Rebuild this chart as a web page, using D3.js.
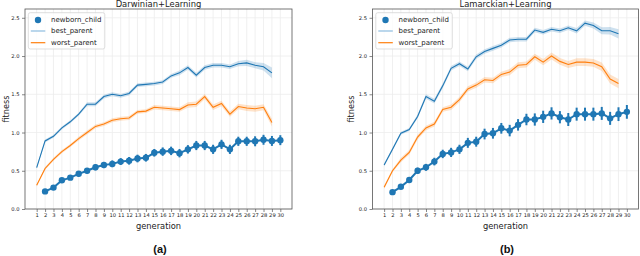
<!DOCTYPE html>
<html>
<head>
<meta charset="utf-8">
<script src="https://cdn.jsdelivr.net/npm/d3@7"></script>
<style>
	body { margin: 0; background: #fff; }
	svg { display: block; font-family: 'DejaVu Sans', sans-serif; }
</style>
</head>
<body>
<svg id="chart" width="640" height="256"></svg>
<script>
// generations shown on the x axis
const genLabels = [1, 2, 3, 4, 5, 6, 7, 8, 9, 10, 11, 12, 13, 14, 15, 16, 17, 18, 19, 20, 21, 22, 23, 24, 25, 26, 27, 28, 29, 30];
const parentGens = genLabels.slice(0, 29);
const childGens = genLabels.slice(1);
const yTicks = [0, 0.5, 1.0, 1.5, 2.0, 2.5];
const seriesNames = ['newborn_child', 'best_parent', 'worst_parent'];

// Darwinian+Learning
const darwinBest = [0.54, 0.89, 0.95, 1.06, 1.14, 1.24, 1.37, 1.37, 1.47, 1.50, 1.48, 1.51, 1.62, 1.63, 1.64, 1.66, 1.74, 1.78, 1.85, 1.75, 1.85, 1.88, 1.88, 1.86, 1.90, 1.91, 1.88, 1.86, 1.78];
const darwinBestCi = [0.015, 0.02, 0.02, 0.02, 0.02, 0.02, 0.025, 0.025, 0.025, 0.025, 0.025, 0.025, 0.025, 0.025, 0.025, 0.025, 0.025, 0.03, 0.03, 0.03, 0.03, 0.03, 0.03, 0.03, 0.035, 0.04, 0.04, 0.05, 0.07];
const darwinWorst = [0.31, 0.53, 0.65, 0.75, 0.83, 0.92, 1.00, 1.08, 1.11, 1.16, 1.18, 1.19, 1.27, 1.28, 1.33, 1.32, 1.31, 1.30, 1.36, 1.37, 1.47, 1.33, 1.38, 1.24, 1.34, 1.32, 1.31, 1.33, 1.13];
const darwinWorstCi = [0.015, 0.02, 0.02, 0.02, 0.02, 0.025, 0.025, 0.025, 0.025, 0.025, 0.025, 0.025, 0.025, 0.025, 0.03, 0.03, 0.03, 0.03, 0.035, 0.035, 0.035, 0.035, 0.035, 0.035, 0.035, 0.04, 0.04, 0.04, 0.05];
const darwinChild = [0.23, 0.28, 0.375, 0.41, 0.46, 0.50, 0.545, 0.575, 0.59, 0.62, 0.63, 0.66, 0.67, 0.735, 0.75, 0.76, 0.73, 0.78, 0.83, 0.83, 0.78, 0.845, 0.78, 0.885, 0.885, 0.885, 0.905, 0.89, 0.90];
const darwinChildErr = [0.02, 0.025, 0.03, 0.03, 0.035, 0.035, 0.04, 0.04, 0.045, 0.045, 0.05, 0.05, 0.05, 0.05, 0.055, 0.055, 0.055, 0.055, 0.06, 0.06, 0.06, 0.06, 0.06, 0.06, 0.06, 0.065, 0.065, 0.065, 0.065];

// Lamarckian+Learning
const lamarckBest = [0.575, 0.78, 0.99, 1.04, 1.21, 1.47, 1.41, 1.61, 1.84, 1.90, 1.83, 1.99, 2.06, 2.10, 2.14, 2.21, 2.22, 2.22, 2.34, 2.31, 2.35, 2.33, 2.37, 2.33, 2.43, 2.40, 2.33, 2.33, 2.29];
const lamarckBestCi = [0.02, 0.02, 0.02, 0.02, 0.025, 0.03, 0.03, 0.03, 0.03, 0.03, 0.03, 0.03, 0.03, 0.03, 0.03, 0.03, 0.03, 0.03, 0.03, 0.03, 0.03, 0.03, 0.03, 0.035, 0.035, 0.04, 0.045, 0.05, 0.06];
const lamarckWorst = [0.285, 0.50, 0.64, 0.74, 0.94, 1.06, 1.11, 1.30, 1.33, 1.43, 1.57, 1.62, 1.69, 1.68, 1.76, 1.79, 1.88, 1.89, 1.99, 1.92, 2.00, 1.93, 1.89, 1.92, 1.92, 1.91, 1.86, 1.70, 1.64];
const lamarckWorstCi = [0.02, 0.02, 0.03, 0.03, 0.03, 0.03, 0.03, 0.03, 0.035, 0.035, 0.035, 0.035, 0.035, 0.035, 0.035, 0.04, 0.04, 0.04, 0.04, 0.04, 0.045, 0.045, 0.045, 0.05, 0.05, 0.05, 0.055, 0.06, 0.06];
const lamarckChild = [0.22, 0.29, 0.38, 0.50, 0.545, 0.62, 0.72, 0.74, 0.78, 0.865, 0.88, 0.98, 0.99, 1.055, 1.025, 1.10, 1.17, 1.17, 1.205, 1.25, 1.20, 1.17, 1.24, 1.24, 1.24, 1.25, 1.185, 1.24, 1.27];
const lamarckChildErr = [0.02, 0.03, 0.035, 0.04, 0.045, 0.05, 0.055, 0.06, 0.06, 0.065, 0.065, 0.07, 0.07, 0.07, 0.075, 0.075, 0.075, 0.08, 0.08, 0.08, 0.08, 0.085, 0.085, 0.085, 0.085, 0.085, 0.085, 0.09, 0.09];

const BLUE = '#1f77b4';
const ORANGE = '#ff7f0e';

const svg = d3.select('#chart');

const panels = [
	{ title: 'Darwinian+Learning', tag: '(a)', left: 25, right: 292, labelX: 8.5,
		best: darwinBest, bestCi: darwinBestCi, worst: darwinWorst, worstCi: darwinWorstCi,
		child: darwinChild, childErr: darwinChildErr },
	{ title: 'Lamarckian+Learning', tag: '(b)', left: 372.5, right: 638.5, labelX: 354,
		best: lamarckBest, bestCi: lamarckBestCi, worst: lamarckWorst, worstCi: lamarckWorstCi,
		child: lamarckChild, childErr: lamarckChildErr },
];

panels.forEach(drawPanel);

function drawPanel (p) {
	const top = 9, bottom = 209;
	const x = d3.scaleLinear([1 - 1.39, 30 + 1.39], [p.left, p.right]);
	const y = d3.scaleLinear([0, 2.615], [bottom, top]);
	const g = svg.append('g');

	// grid
	g.append('g').selectAll('line').data(genLabels).join('line')
		.attr('x1', d => x(d)).attr('x2', d => x(d))
		.attr('y1', top).attr('y2', bottom)
		.style('stroke', '#ececec').style('stroke-width', 0.8);
	g.append('g').selectAll('line').data(yTicks).join('line')
		.attr('x1', p.left).attr('x2', p.right)
		.attr('y1', d => y(d)).attr('y2', d => y(d))
		.style('stroke', '#ececec').style('stroke-width', 0.8);

	// parent lines with confidence bands
	const parents = [
		{ vals: p.best, ci: p.bestCi, color: BLUE },
		{ vals: p.worst, ci: p.worstCi, color: ORANGE },
	];
	parents.forEach(s => {
		const rows = parentGens.map((gen, i) => ({ gen, v: s.vals[i], c: s.ci[i] }));
		g.append('path').datum(rows)
			.attr('d', d3.area().x(d => x(d.gen)).y0(d => y(d.v - d.c)).y1(d => y(d.v + d.c)))
			.style('fill', s.color).style('fill-opacity', 0.22).style('stroke', 'none');
		g.append('path').datum(rows)
			.attr('d', d3.line().x(d => x(d.gen)).y(d => y(d.v)))
			.style('fill', 'none').style('stroke', s.color).style('stroke-width', 1.1);
	});

	// newborn child point plot
	const kids = childGens.map((gen, i) => ({ gen, v: p.child[i], e: p.childErr[i] }));
	g.append('g').selectAll('line').data(kids).join('line')
		.attr('x1', d => x(d.gen)).attr('x2', d => x(d.gen))
		.attr('y1', d => y(d.v - d.e)).attr('y2', d => y(d.v + d.e))
		.style('stroke', BLUE).style('stroke-width', 2);
	g.append('path').datum(kids)
		.attr('d', d3.line().x(d => x(d.gen)).y(d => y(d.v)))
		.style('fill', 'none').style('stroke', BLUE).style('stroke-width', 2);
	g.append('g').selectAll('circle').data(kids).join('circle')
		.attr('cx', d => x(d.gen)).attr('cy', d => y(d.v)).attr('r', 3.2)
		.style('fill', BLUE);

	// frame
	g.append('rect')
		.attr('x', p.left).attr('y', top)
		.attr('width', p.right - p.left).attr('height', bottom - top)
		.style('fill', 'none').style('stroke', '#555').style('stroke-width', 0.8);

	// axes
	const xAxis = g.append('g').attr('transform', `translate(0,${bottom})`)
		.call(d3.axisBottom(x).tickValues(genLabels).tickFormat(d3.format('d')).tickSize(3).tickPadding(1.5));
	const yAxis = g.append('g').attr('transform', `translate(${p.left},0)`)
		.call(d3.axisLeft(y).tickValues(yTicks).tickFormat(d3.format('.1f')).tickSize(3).tickPadding(2.5));
	[xAxis, yAxis].forEach(a => {
		a.select('.domain').remove();
		a.selectAll('line').style('stroke', '#555').style('stroke-width', 0.7);
		a.selectAll('text').style('font-family', "'DejaVu Sans', sans-serif")
			.style('font-size', '5.2px').style('fill', '#222');
	});

	// legend
	const lg = g.append('g').attr('transform', `translate(${p.left + 3.3},12.7)`);
	lg.append('rect')
		.attr('width', 76.5).attr('height', 36.3).attr('rx', 2)
		.style('fill', '#fff').style('fill-opacity', 0.8)
		.style('stroke', '#d0d0d0').style('stroke-width', 0.7);
	lg.append('circle').attr('cx', 9.7).attr('cy', 7.3).attr('r', 3.2).style('fill', BLUE);
	lg.append('line').attr('x1', 2.5).attr('x2', 17).attr('y1', 18.3).attr('y2', 18.3)
		.style('stroke', '#8dbce0').style('stroke-width', 1.2);
	lg.append('line').attr('x1', 2.5).attr('x2', 17).attr('y1', 30).attr('y2', 30)
		.style('stroke', ORANGE).style('stroke-width', 1.2);
	lg.selectAll('text').data(seriesNames).join('text')
		.attr('x', 22.7).attr('y', (d, i) => [7.3, 18.3, 30][i] + 2.5)
		.style('font-size', '7px').style('fill', '#222')
		.text(d => d);

	// titles and labels
	const cx = (p.left + p.right) / 2;
	g.append('text').attr('x', cx).attr('y', 7.2).attr('text-anchor', 'middle')
		.style('font-size', '8.4px').style('fill', '#222').text(p.title);
	g.append('text').attr('x', cx).attr('y', 228.5).attr('text-anchor', 'middle')
		.style('font-size', '8.3px').style('fill', '#222').text('generation');
	g.append('text').attr('transform', `translate(${p.labelX},${(top + bottom) / 2}) rotate(-90)`)
		.attr('text-anchor', 'middle')
		.style('font-size', '8.2px').style('fill', '#222').text('fitness');
	g.append('text').attr('x', cx + 1.5).attr('y', 253).attr('text-anchor', 'middle')
		.style('font-family', "'Liberation Sans', Arial, sans-serif").style('font-weight', 'bold')
		.style('font-size', '11px').style('fill', '#111').text(p.tag);
}
</script>
</body>
</html>
